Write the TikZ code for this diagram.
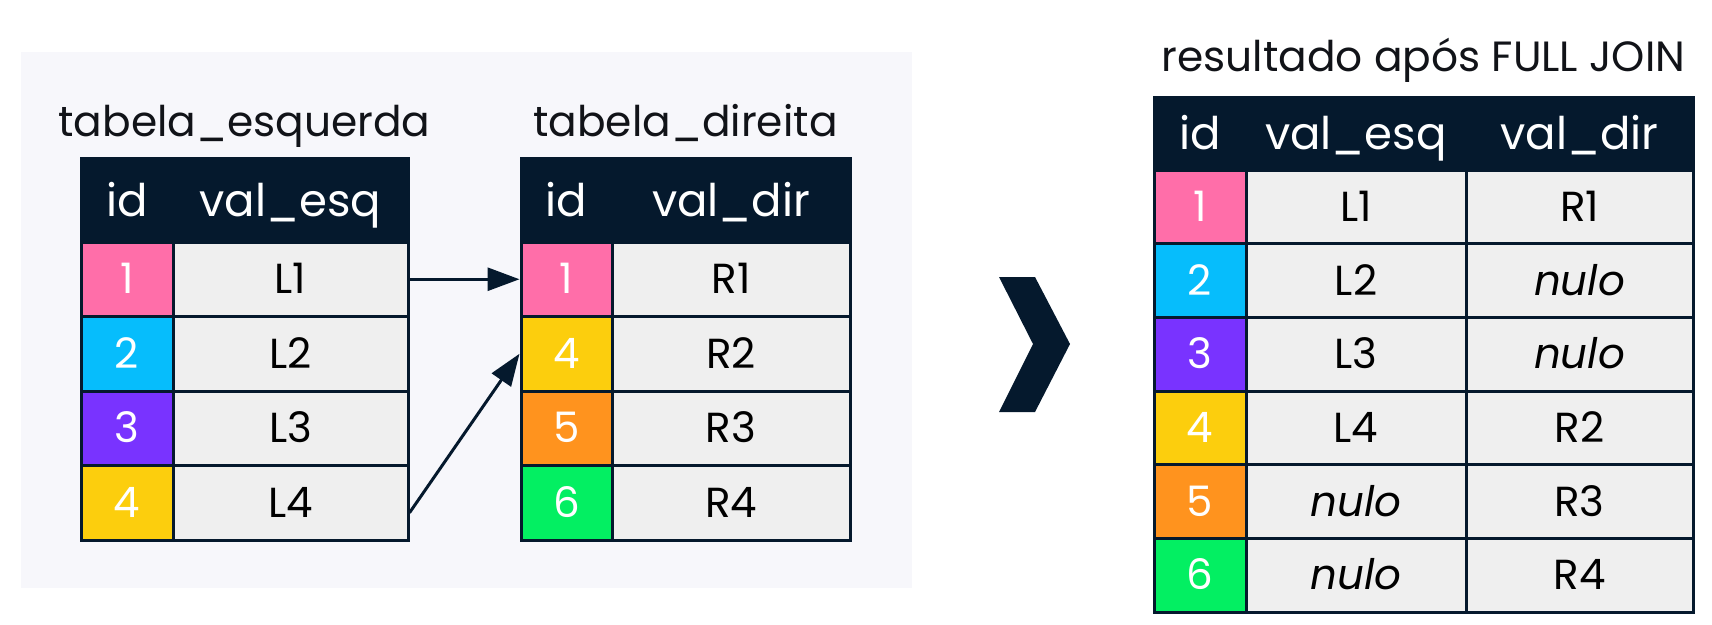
\documentclass[tikz,border=0pt]{standalone}
\usepackage{fontspec}
\setmainfont{Poppins}
\usepackage{tikz}
\usetikzlibrary{arrows.meta}

\definecolor{navy}{HTML}{05192D}
\definecolor{ink}{HTML}{111318}
\definecolor{panel}{HTML}{F7F7FB}
\definecolor{cellgrey}{HTML}{EFEFEF}
\definecolor{rosa}{HTML}{FF6EA9}
\definecolor{ciano}{HTML}{06BDFC}
\definecolor{roxo}{HTML}{7933FF}
\definecolor{amarelo}{HTML}{FCCE0D}
\definecolor{laranja}{HTML}{FF931E}
\definecolor{verde}{HTML}{03EF62}

\begin{document}
\begin{tikzpicture}[x=1pt,y=-1pt]
        \tikzset{cell/.style = {shape=rectangle,draw=navy,line width=3pt,fill=cellgrey,inner sep=0pt,minimum height=74.5pt,text height=29pt,text depth=0pt,text=black,font=\fontsize{42}{48}\selectfont}}
        \tikzset{idcell/.style = {cell,text=white}}
        \tikzset{head/.style = {cell,fill=navy,text=white,text height=32pt,font=\fontsize{45}{50}\selectfont}}
        \tikzset{title/.style = {anchor=base,text=ink,inner sep=0pt,font=\fontsize{42.3}{48}\selectfont}}
        \tikzset{edged/.style = {-{Triangle[length=32pt,width=23pt]}, line width=3pt, draw=navy}}
        \useasboundingbox (0,0) rectangle (1712,624);
        \fill[panel] (21,52) rectangle (912,588);
        % titles
        \node[title] (tesq) at (244.5,136) {tabela\_esquerda};
        \node[title] (tdir) at (685.5,136) {tabela\_direita};
        \node[title] (tres) at (1423.5,71) {resultado após FULL JOIN};
        % tabela_esquerda
        \node[head, minimum width=92pt, minimum height=84pt] (lhid) at (127,200) {id};
        \node[head, minimum width=235pt, minimum height=84pt] (lhval) at (290.5,200) {val\_esq};
        \node[idcell, minimum width=92pt, fill=rosa] (l1id) at (127,279.25) {1};
        \node[cell, minimum width=235pt] (l1val) at (290.5,279.25) {L1};
        \node[idcell, minimum width=92pt, fill=ciano] (l2id) at (127,353.75) {2};
        \node[cell, minimum width=235pt] (l2val) at (290.5,353.75) {L2};
        \node[idcell, minimum width=92pt, fill=roxo] (l3id) at (127,428.25) {3};
        \node[cell, minimum width=235pt] (l3val) at (290.5,428.25) {L3};
        \node[idcell, minimum width=92pt, fill=amarelo] (l4id) at (127,502.75) {4};
        \node[cell, minimum width=235pt] (l4val) at (290.5,502.75) {L4};
        % tabela_direita
        \node[head, minimum width=91pt, minimum height=84pt] (rhid) at (566.5,200) {id};
        \node[head, minimum width=238pt, minimum height=84pt] (rhval) at (731,200) {val\_dir};
        \node[idcell, minimum width=91pt, fill=rosa] (r1id) at (566.5,279.25) {1};
        \node[cell, minimum width=238pt] (r1val) at (731,279.25) {R1};
        \node[idcell, minimum width=91pt, fill=amarelo] (r2id) at (566.5,353.75) {4};
        \node[cell, minimum width=238pt] (r2val) at (731,353.75) {R2};
        \node[idcell, minimum width=91pt, fill=laranja] (r3id) at (566.5,428.25) {5};
        \node[cell, minimum width=238pt] (r3val) at (731,428.25) {R3};
        \node[idcell, minimum width=91pt, fill=verde] (r4id) at (566.5,502.75) {6};
        \node[cell, minimum width=238pt] (r4val) at (731,502.75) {R4};
        % ligacoes
        \draw[edged] (l1val.east) to (r1id.west);
        \draw[edged] ([yshift=-10pt]l4val.east) to (r2id.west);
        % seta
        \fill[navy] (999,277) -- (1035,277) -- (1070,344) -- (1035,412) -- (999,412) -- (1033,344) -- cycle;
        % resultado
        \node[head, minimum width=92pt, minimum height=73pt] (fhid) at (1200,133.5) {id};
        \node[head, minimum width=220pt, minimum height=73pt] (fhesq) at (1356,133.5) {val\_esq};
        \node[head, minimum width=227pt, minimum height=73pt] (fhdir) at (1579.5,133.5) {val\_dir};
        \tikzset{cell/.append style = {minimum height=73.7pt}}
        \node[idcell, minimum width=92pt, fill=rosa] (f1id) at (1200,206.85) {1};
        \node[cell, minimum width=220pt] (f1esq) at (1356,206.85) {L1};
        \node[cell, minimum width=227pt] (f1dir) at (1579.5,206.85) {R1};
        \node[idcell, minimum width=92pt, fill=ciano] (f2id) at (1200,280.55) {2};
        \node[cell, minimum width=220pt] (f2esq) at (1356,280.55) {L2};
        \node[cell, minimum width=227pt] (f2dir) at (1579.5,280.55) {\itshape nulo};
        \node[idcell, minimum width=92pt, fill=roxo] (f3id) at (1200,354.25) {3};
        \node[cell, minimum width=220pt] (f3esq) at (1356,354.25) {L3};
        \node[cell, minimum width=227pt] (f3dir) at (1579.5,354.25) {\itshape nulo};
        \node[idcell, minimum width=92pt, fill=amarelo] (f4id) at (1200,427.95) {4};
        \node[cell, minimum width=220pt] (f4esq) at (1356,427.95) {L4};
        \node[cell, minimum width=227pt] (f4dir) at (1579.5,427.95) {R2};
        \node[idcell, minimum width=92pt, fill=laranja] (f5id) at (1200,501.65) {5};
        \node[cell, minimum width=220pt] (f5esq) at (1356,501.65) {\itshape nulo};
        \node[cell, minimum width=227pt] (f5dir) at (1579.5,501.65) {R3};
        \node[idcell, minimum width=92pt, fill=verde] (f6id) at (1200,575.35) {6};
        \node[cell, minimum width=220pt] (f6esq) at (1356,575.35) {\itshape nulo};
        \node[cell, minimum width=227pt] (f6dir) at (1579.5,575.35) {R4};
\end{tikzpicture}
\end{document}
